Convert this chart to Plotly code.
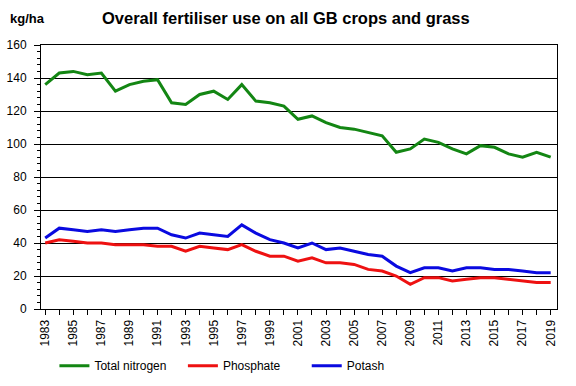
import plotly.graph_objects as go

years = list(range(1983, 2020))
total_nitrogen = [136, 143, 144, 142, 143, 132, 136, 138, 139, 125, 124, 130, 132, 127, 136,
                  126, 125, 123, 115, 117, 113, 110, 109, 107, 105, 95, 97, 103, 101, 97,
                  94, 99, 98, 94, 92, 95, 92]
phosphate = [40, 42, 41, 40, 40, 39, 39, 39, 38, 38, 35, 38, 37, 36, 39,
             35, 32, 32, 29, 31, 28, 28, 27, 24, 23, 20, 15, 19, 19, 17,
             18, 19, 19, 18, 17, 16, 16]
potash = [43, 49, 48, 47, 48, 47, 48, 49, 49, 45, 43, 46, 45, 44, 51,
          46, 42, 40, 37, 40, 36, 37, 35, 33, 32, 26, 22, 25, 25, 23,
          25, 25, 24, 24, 23, 22, 22]
year_labels = [str(y) if (y - 1983) % 2 == 0 else "" for y in years]
y_ticks = [0, 20, 40, 60, 80, 100, 120, 140, 160]

FONT = "Liberation Sans, Arial, sans-serif"

series = [
    ("Total nitrogen", total_nitrogen, "#138613", "legend"),
    ("Phosphate", phosphate, "#ee1111", "legend2"),
    ("Potash", potash, "#0a0ae0", "legend3"),
]

fig = go.Figure()
for name, vals, color, leg in series:
    fig.add_trace(go.Scatter(x=years, y=vals, name=name, mode="lines", showlegend=True,
                             line=dict(color=color, width=3), legend=leg))

leg_common = dict(orientation="h", yanchor="middle", y=-0.215, xanchor="left",
                  font=dict(family=FONT, size=12, color="black"),
                  bgcolor="rgba(0,0,0,0)", itemwidth=30)

fig.update_layout(
    width=576, height=386,
    margin=dict(l=41, r=19, t=45, b=77, autoexpand=False),
    showlegend=True,
    paper_bgcolor="white", plot_bgcolor="white",
    font=dict(family=FONT, size=12, color="black"),
    legend=dict(x=0.026, **leg_common),
    legend2=dict(x=0.275, **leg_common),
    legend3=dict(x=0.515, **leg_common),
    annotations=[
        dict(text="<b>Overall fertiliser use on all GB crops and grass</b>",
             xref="paper", yref="paper", x=0.475, y=1.0, yshift=27,
             xanchor="center", yanchor="middle", showarrow=False,
             font=dict(family=FONT, size=16.5, color="black")),
        dict(text="<b>kg/ha</b>", xref="paper", yref="paper", x=-0.064, y=1.0, yshift=27,
             xanchor="left", yanchor="middle", showarrow=False,
             font=dict(family=FONT, size=13, color="black")),
    ],
)
fig.update_xaxes(
    range=[1982.7, 2019.45], tickmode="array", tickvals=years, ticktext=year_labels,
    tickangle=-90, ticks="outside", ticklen=5, tickcolor="black",
    showline=True, linecolor="black", linewidth=1, mirror=True,
    showgrid=False, zeroline=False, tickfont=dict(size=12), automargin=False,
)
fig.update_yaxes(
    range=[0, 160], tickmode="array", tickvals=y_ticks,
    ticks="outside", ticklen=6, tickcolor="black", ticklabelstandoff=5,
    minor=dict(ticks="outside", ticklen=3, dtick=4, tickcolor="black", showgrid=False),
    showline=True, linecolor="black", linewidth=1, mirror=True,
    showgrid=True, gridcolor="black", gridwidth=1, zeroline=False,
    tickfont=dict(size=12), automargin=False,
)

fig.write_html("out.html", post_script="document.body.style.margin='0';",
               config={"displayModeBar": False})
